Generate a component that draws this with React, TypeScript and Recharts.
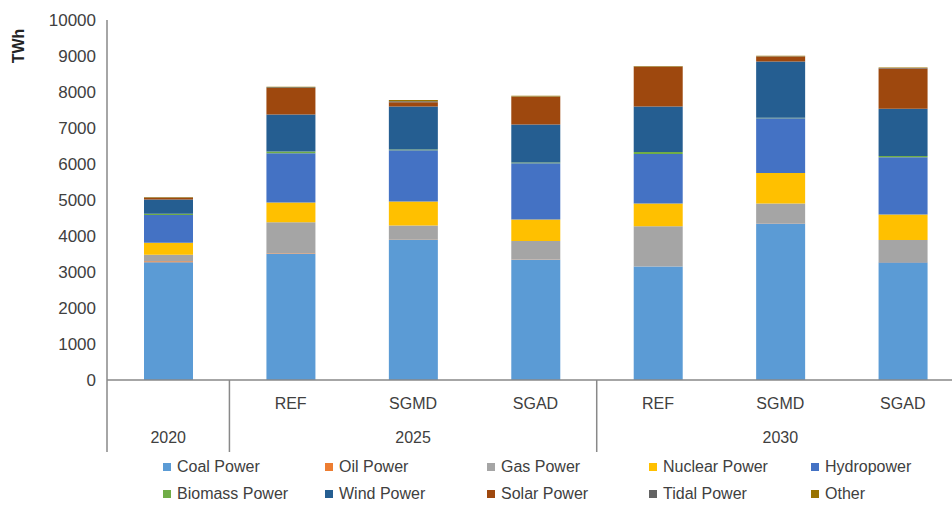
import React from 'react';
import { BarChart, Bar, XAxis, YAxis, Legend } from 'recharts';

const scenarios = ['', 'REF', 'SGMD', 'SGAD', 'REF', 'SGMD', 'SGAD'];
const years = ['2020', '2025', '2025', '2025', '2030', '2030', '2030'];

const coal = [3270, 3510, 3890, 3340, 3150, 4350, 3270];
const oil = [30, 10, 5, 5, 5, 5, 5];
const gas = [180, 860, 400, 515, 1115, 545, 615];
const nuclear = [330, 550, 660, 600, 630, 850, 710];
const hydro = [775, 1370, 1430, 1560, 1375, 1520, 1590];
const biomass = [30, 45, 15, 25, 55, 15, 35];
const wind = [400, 1030, 1195, 1050, 1270, 1560, 1310];
const solar = [50, 735, 120, 770, 1100, 140, 1120];
const tidal = [5, 20, 30, 10, 10, 10, 10];
const other = [10, 15, 30, 20, 15, 10, 15];

const yTicks = [0, 1000, 2000, 3000, 4000, 5000, 6000, 7000, 8000, 9000, 10000];

const series = [
  { key: 'coal', name: 'Coal Power', color: '#5B9BD5', values: coal },
  { key: 'oil', name: 'Oil Power', color: '#ED7D31', values: oil },
  { key: 'gas', name: 'Gas Power', color: '#A5A5A5', values: gas },
  { key: 'nuclear', name: 'Nuclear Power', color: '#FFC000', values: nuclear },
  { key: 'hydro', name: 'Hydropower', color: '#4472C4', values: hydro },
  { key: 'biomass', name: 'Biomass Power', color: '#70AD47', values: biomass },
  { key: 'wind', name: 'Wind Power', color: '#255E91', values: wind },
  { key: 'solar', name: 'Solar Power', color: '#9E480E', values: solar },
  { key: 'tidal', name: 'Tidal Power', color: '#636363', values: tidal },
  { key: 'other', name: 'Other', color: '#997300', values: other },
];

const data = scenarios.map((s, i) => {
  const row: Record<string, string | number> = { id: `${years[i]} ${s}`.trim(), scenario: s, year: years[i] };
  series.forEach((se) => { row[se.key] = se.values[i]; });
  return row;
});

const CHART_W = 980;
const CHART_H = 507;
const MARGIN = { top: 20, right: 16, left: 0, bottom: 0 };
const Y_AXIS_W = 107;
const BAND = (CHART_W - MARGIN.left - MARGIN.right - Y_AXIS_W) / data.length;

const FONT = '"Liberation Sans", Arial, sans-serif';
const TEXT = '#404040';
const LINE = '#898989';

// first and middle index of every year group
const groupStarts: number[] = [];
const groupMiddles: number[] = [];
years.forEach((yr, i) => {
  if (i === 0 || years[i - 1] !== yr) groupStarts.push(i);
});
groupStarts.forEach((start, g) => {
  const end = g + 1 < groupStarts.length ? groupStarts[g + 1] - 1 : years.length - 1;
  groupMiddles.push(Math.floor((start + end) / 2));
});

const CategoryTick = (props: any) => {
  const { x, y, index } = props;
  const left = x - BAND / 2;
  return (
    <g>
      <text x={x} y={y + 23} textAnchor="middle" dominantBaseline="central" fontSize={16} fill={TEXT} fontFamily={FONT}>
        {scenarios[index]}
      </text>
      {groupMiddles.includes(index) && (
        <text x={x} y={y + 57} textAnchor="middle" dominantBaseline="central" fontSize={16} fill={TEXT} fontFamily={FONT}>
          {years[index]}
        </text>
      )}
      {groupStarts.includes(index) && (
        <line x1={left} x2={left} y1={y} y2={y + 72} stroke={LINE} strokeWidth={1.5} />
      )}
    </g>
  );
};

// keep legend in series order (recharts sorts payload by name)
const LegendGrid = () => (
  <div style={{ display: 'grid', gridTemplateColumns: 'repeat(5, 162px)', paddingLeft: 163, paddingTop: 1 }}>
    {series.map((it) => (
      <div key={it.key} style={{ display: 'flex', alignItems: 'center', height: 27, fontFamily: FONT, fontSize: 16, color: TEXT }}>
        <span style={{ width: 8, height: 8, background: it.color, marginRight: 6, display: 'inline-block' }} />
        <span>{it.name}</span>
      </div>
    ))}
  </div>
);

export default function App() {
  return (
    <div style={{ position: 'absolute', left: 0, top: 0, width: 952, height: 507, overflow: 'hidden', background: '#fff', fontFamily: FONT }}>
      <BarChart width={CHART_W} height={CHART_H} data={data} margin={MARGIN} barSize={49}>
        <XAxis
          dataKey="id"
          interval={0}
          height={72}
          tickSize={0}
          tickMargin={0}
          tickLine={false}
          axisLine={{ stroke: LINE, strokeWidth: 1.5 }}
          tick={<CategoryTick />}
        />
        <XAxis xAxisId="top" dataKey="id" orientation="top" height={0} tick={false} tickLine={false} axisLine={{ stroke: LINE, strokeWidth: 1.5 }} />
        <YAxis
          width={Y_AXIS_W}
          domain={[0, 10000]}
          ticks={yTicks}
          interval={0}
          tickLine={false}
          tickMargin={5}
          axisLine={{ stroke: LINE, strokeWidth: 1.5 }}
          tick={{ fontSize: 17, fill: TEXT, fontFamily: FONT }}
          label={{
            content: () => (
              <text x={18} y={46} transform="rotate(-90 18 46)" textAnchor="middle" dominantBaseline="central" fontSize={16} fontWeight="bold" fill="#222" fontFamily={FONT}>
                TWh
              </text>
            ),
          }}
        />
        <Legend
          verticalAlign="bottom"
          content={<LegendGrid />}
          wrapperStyle={{ left: 0, bottom: 0, width: CHART_W, height: 55 }}
        />
        {series.map((se) => (
          <Bar key={se.key} dataKey={se.key} name={se.name} stackId="a" fill={se.color} isAnimationActive={false} />
        ))}
      </BarChart>
    </div>
  );
}
